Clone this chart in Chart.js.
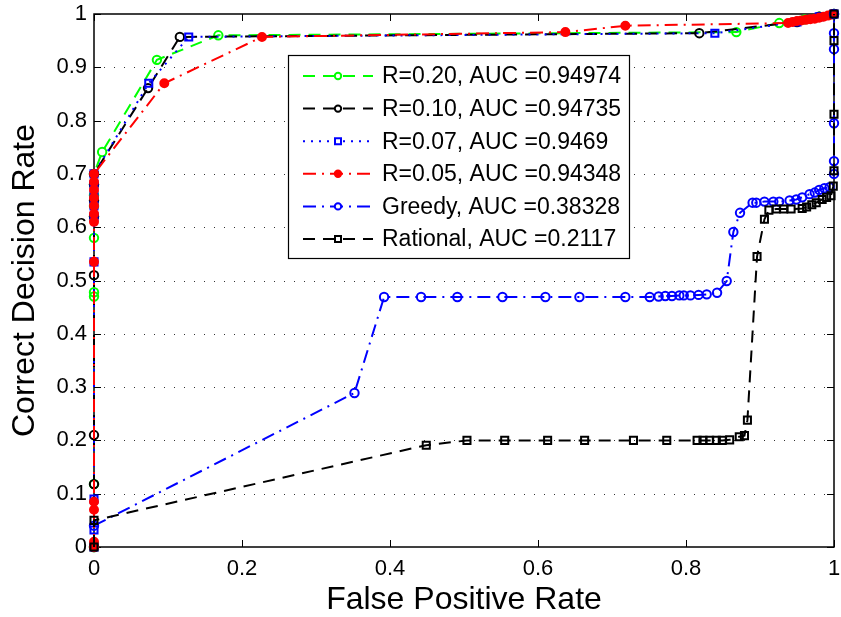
<!DOCTYPE html>
<html>
<head>
<meta charset="utf-8">
<script src="https://cdn.jsdelivr.net/npm/chart.js@4.4.1/dist/chart.umd.min.js"></script>
<style>
  body { margin: 0; background: #fff; }
  canvas { display: block; }
</style>
</head>
<body>
<canvas id="roc" width="841" height="617"></canvas>
<script>
// series labels (legend order)
var seriesLabels = [
    'R=0.20, AUC =0.94974',
    'R=0.10, AUC =0.94735',
    'R=0.07, AUC =0.9469',
    'R=0.05, AUC =0.94348',
    'Greedy, AUC =0.38328',
    'Rational, AUC =0.2117'
];

// [false positive rate, correct decision rate]
var r20 = [[0,0],[0,0.118],[0,0.47],[0,0.478],[0,0.58],[0,0.62],[0,0.64],[0,0.66],[0,0.68],[0,0.70],
    [0.011,0.741],[0.085,0.914],[0.168,0.96],[0.868,0.966],[0.926,0.983],[0.96,0.99],[0.98,0.995],[1,1]];
var r10 = [[0,0],[0,0.118],[0,0.21],[0,0.51],[0,0.62],[0,0.65],[0,0.68],[0,0.70],
    [0.073,0.861],[0.116,0.957],[0.818,0.964],[0.95,0.985],[0.98,0.995],[1,1]];
var r07 = [[0,0],[0,0.032],[0,0.09],[0,0.535],[0,0.62],[0,0.64],[0,0.66],[0,0.68],[0,0.70],
    [0.074,0.87],[0.128,0.957],[0.839,0.964],[0.95,0.985],[0.98,0.995],[1,1]];
var r05 = [[0,0],[0,0.01],[0,0.07],[0,0.085],[0,0.535],[0,0.61],[0,0.625],[0,0.64],[0,0.655],[0,0.67],[0,0.685],[0,0.70],
    [0.095,0.87],[0.227,0.957],[0.637,0.966],[0.718,0.978],[0.938,0.983],[0.944,0.985],[0.95,0.987],[0.956,0.988],
    [0.962,0.989],[0.968,0.99],[0.974,0.991],[0.98,0.993],[0.986,0.995],[0.992,0.997],[0.997,0.999],[1,1]];
var greedy = [[0,0.04],[0.352,0.289],[0.392,0.469],[0.442,0.469],[0.491,0.469],[0.552,0.469],[0.610,0.469],
    [0.656,0.469],[0.718,0.469],[0.751,0.469],[0.763,0.47],[0.772,0.471],[0.781,0.471],[0.791,0.472],[0.797,0.472],
    [0.806,0.472],[0.817,0.473],[0.828,0.474],[0.842,0.477],[0.855,0.499],[0.864,0.591],[0.873,0.627],[0.890,0.646],
    [0.895,0.646],[0.906,0.648],[0.918,0.648],[0.926,0.648],[0.940,0.650],[0.949,0.652],[0.957,0.656],[0.967,0.662],
    [0.974,0.665],[0.980,0.670],[0.987,0.673],[0.994,0.675],[1,0.70],[1,0.724],[1,0.795],[1,0.934],[1,0.964],[1,1]];
var rational = [[0,0],[0,0.05],[0.449,0.191],[0.504,0.20],[0.555,0.20],[0.613,0.20],[0.663,0.20],[0.729,0.20],
    [0.774,0.20],[0.815,0.20],[0.823,0.20],[0.832,0.20],[0.841,0.20],[0.849,0.20],[0.859,0.201],[0.872,0.207],
    [0.879,0.209],[0.883,0.238],[0.896,0.545],[0.906,0.615],[0.912,0.632],[0.922,0.634],[0.932,0.634],[0.942,0.634],
    [0.957,0.635],[0.963,0.638],[0.970,0.642],[0.976,0.646],[0.984,0.652],[0.990,0.656],[0.996,0.659],[0.999,0.677],
    [1,0.706],[1,0.812],[1,0.95],[1,1]];

var xTicks = [0, 0.2, 0.4, 0.6, 0.8, 1];
var yTicks = [0, 0.1, 0.2, 0.3, 0.4, 0.5, 0.6, 0.7, 0.8, 0.9, 1];

var FONT = '"Liberation Sans", Arial, Helvetica, sans-serif';
Chart.defaults.font.family = FONT;
Chart.defaults.color = '#000';

function pts(arr) {
    return arr.map(function (p) { return {x: p[0], y: p[1]}; });
}

function series(i, arr, color, dash, style, radius, fill) {
    return {
        label: seriesLabels[i],
        data: pts(arr),
        showLine: true,
        borderColor: color,
        borderWidth: 2,
        borderDash: dash,
        pointStyle: style,
        pointRadius: radius,
        pointBorderWidth: 2,
        pointBorderColor: color,
        pointBackgroundColor: fill ? color : 'rgba(0,0,0,0)',
        tension: 0,
        clip: false,
        order: 5 - i   // later series painted on top, like the original
    };
}

// axes box, inward ticks and dotted y grid
var boxPlugin = {
    id: 'axesBox',
    beforeDatasetsDraw: function (chart) {
        var ctx = chart.ctx, a = chart.chartArea;
        var xs = chart.scales.x, ys = chart.scales.y;
        ctx.save();
        ctx.strokeStyle = '#333';
        ctx.lineWidth = 1;
        ctx.setLineDash([1, 9]);
        yTicks.forEach(function (v) {
            if (v <= 0 || v >= 1) return;
            var py = Math.round(ys.getPixelForValue(v)) + 0.5;
            ctx.beginPath(); ctx.moveTo(a.left, py); ctx.lineTo(a.right, py); ctx.stroke();
        });
        ctx.setLineDash([]);
        ctx.strokeStyle = '#000';
        ctx.lineWidth = 1;
        xTicks.forEach(function (v) {
            var px = Math.round(xs.getPixelForValue(v)) + 0.5;
            ctx.beginPath();
            ctx.moveTo(px, a.bottom); ctx.lineTo(px, a.bottom - 7);
            ctx.moveTo(px, a.top); ctx.lineTo(px, a.top + 7);
            ctx.stroke();
        });
        yTicks.forEach(function (v) {
            var py = Math.round(ys.getPixelForValue(v)) + 0.5;
            ctx.beginPath();
            ctx.moveTo(a.left, py); ctx.lineTo(a.left + 7, py);
            ctx.moveTo(a.right, py); ctx.lineTo(a.right - 7, py);
            ctx.stroke();
        });
        ctx.lineWidth = 1.5;
        ctx.strokeRect(a.left, a.top, a.right - a.left, a.bottom - a.top);
        ctx.restore();
    }
};

function drawMark(ctx, style, x, y, r, stroke, fill) {
    ctx.beginPath();
    if (style === 'rect') {
        ctx.rect(x - r, y - r, 2 * r, 2 * r);
    } else {
        ctx.arc(x, y, r, 0, Math.PI * 2);
    }
    ctx.fillStyle = fill;
    ctx.fill();
    ctx.strokeStyle = stroke;
    ctx.lineWidth = 2;
    ctx.stroke();
}

// boxed legend inside the plot, like the original
var legendPlugin = {
    id: 'boxLegend',
    afterDatasetsDraw: function (chart) {
        var ctx = chart.ctx, a = chart.chartArea;
        var lx = a.left + 194, ly = a.top + 41, lw = 341, lh = 203;
        ctx.save();
        ctx.fillStyle = '#fff';
        ctx.fillRect(lx, ly, lw, lh);
        ctx.strokeStyle = '#000';
        ctx.lineWidth = 1.2;
        ctx.strokeRect(lx + 0.5, ly + 0.5, lw, lh);
        chart.data.datasets.forEach(function (ds, i) {
            var cy = ly + 21 + i * 32.6;
            ctx.strokeStyle = ds.borderColor;
            ctx.lineWidth = ds.borderWidth;
            ctx.setLineDash(ds.borderDash);
            ctx.beginPath(); ctx.moveTo(lx + 15, cy); ctx.lineTo(lx + 85, cy); ctx.stroke();
            ctx.setLineDash([]);
            var r = ds.pointStyle === 'rect' ? 3 : 3.2;
            drawMark(ctx, ds.pointStyle, lx + 50, cy, r, ds.pointBorderColor, ds.pointBackgroundColor === 'rgba(0,0,0,0)' ? '#fff' : ds.pointBackgroundColor);
            ctx.fillStyle = '#000';
            ctx.font = '23px ' + FONT;
            ctx.textAlign = 'left';
            ctx.textBaseline = 'middle';
            ctx.fillText(ds.label, lx + 94, cy + 1);
        });
        ctx.restore();
    }
};

var ctx = document.getElementById('roc').getContext('2d');
var myChart = new Chart(ctx, {
    type: 'scatter',
    data: {
        datasets: [
            series(0, r20, '#00ff00', [12, 8], 'circle', 4.2, false),
            series(1, r10, '#000000', [12, 8], 'circle', 4.2, false),
            series(2, r07, '#0000ff', [2, 6], 'rect', 5, false),
            series(3, r05, '#ff0000', [13, 6, 2, 6], 'circle', 4, true),
            series(4, greedy, '#0000ff', [13, 6, 2, 6], 'circle', 4.2, false),
            series(5, rational, '#000000', [12, 8], 'rect', 5, false)
        ]
    },
    options: {
        responsive: false,
        animation: false,
        devicePixelRatio: 1,
        layout: { padding: { top: 14, right: 3, left: 0, bottom: 0 } },
        plugins: { legend: { display: false }, tooltip: { enabled: false } },
        scales: {
            x: {
                type: 'linear',
                min: 0, max: 1,
                afterBuildTicks: function (s) { s.ticks = xTicks.map(function (v) { return {value: v}; }); },
                afterFit: function (s) { s.height = 70; s.paddingLeft = 0; s.paddingRight = 0; },
                grid: { display: false, drawTicks: false },
                border: { display: false },
                ticks: {
                    padding: 9,
                    font: { size: 22 },
                    callback: function (v) { return String(+v.toFixed(1)); }
                },
                title: {
                    display: true,
                    text: 'False Positive Rate',
                    font: { size: 32, lineHeight: 1 },
                    padding: { top: 0, bottom: 1 }
                }
            },
            y: {
                type: 'linear',
                min: 0, max: 1,
                afterBuildTicks: function (s) { s.ticks = yTicks.map(function (v) { return {value: v}; }); },
                afterFit: function (s) { s.width = 94; s.paddingTop = 0; s.paddingBottom = 0; },
                grid: { display: false, drawTicks: false },
                border: { display: false },
                ticks: {
                    padding: 7,
                    font: { size: 22 },
                    callback: function (v) { return String(+v.toFixed(1)); }
                },
                title: {
                    display: true,
                    text: 'Correct Decision Rate',
                    font: { size: 32, lineHeight: 1 },
                    padding: { top: 9, bottom: 0 }
                }
            }
        }
    },
    plugins: [boxPlugin, legendPlugin]
});
</script>
</body>
</html>
